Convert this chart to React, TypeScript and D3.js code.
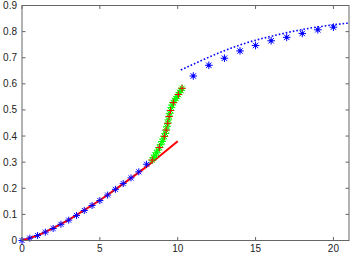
import React from 'react';
import * as d3 from 'd3';

// lower blue asterisks (x step 0.5)
const lowX = [0, 0.5, 1, 1.5, 2, 2.5, 3, 3.5, 4, 4.5, 5, 5.5, 6, 6.5, 7, 7.5, 8];
const lowY = [0, 0.009, 0.019, 0.032, 0.046, 0.062, 0.078, 0.096, 0.115, 0.134, 0.153, 0.174, 0.196, 0.218, 0.24, 0.263, 0.292];

// upper blue asterisks
const highX = [11, 12, 13, 14, 15, 16, 17, 18, 19, 20];
const highY = [0.63, 0.671, 0.698, 0.726, 0.747, 0.765, 0.778, 0.793, 0.807, 0.817];

// red fitted line
const fitX = [0, 1, 2, 3, 4, 5, 6, 7, 8, 9, 10];
const fitY = [0, 0.019, 0.047, 0.079, 0.116, 0.154, 0.196, 0.239, 0.283, 0.331, 0.38];

// blue dotted line
const dotX = [10.2, 11, 12, 13, 14, 15, 16, 17, 18, 19, 20, 21];
const dotY = [0.653, 0.675, 0.702, 0.727, 0.749, 0.767, 0.782, 0.796, 0.808, 0.818, 0.826, 0.833];

// green asterisks along the S curve
const greenX = [8.36, 8.45, 8.55, 8.64, 8.73, 8.82, 8.91, 9.0, 9.07, 9.14, 9.21, 9.26, 9.31, 9.36, 9.4, 9.45, 9.49, 9.54, 9.59, 9.64, 9.72, 9.8, 9.88, 9.96, 10.04, 10.12, 10.2, 10.28];
const greenY = [0.308, 0.318, 0.327, 0.336, 0.346, 0.356, 0.367, 0.379, 0.389, 0.399, 0.41, 0.423, 0.436, 0.449, 0.462, 0.475, 0.487, 0.498, 0.509, 0.519, 0.528, 0.537, 0.544, 0.551, 0.559, 0.567, 0.575, 0.583];

// red plus markers on the S curve
const plusX = [8.36, 8.82, 9.14, 9.26, 9.36, 9.45, 9.54, 9.72, 10.04, 10.28];
const plusY = [0.308, 0.356, 0.399, 0.423, 0.449, 0.475, 0.498, 0.528, 0.559, 0.583];

const xTicks = [0, 5, 10, 15, 20];
const yTicks = [0, 0.1, 0.2, 0.3, 0.4, 0.5, 0.6, 0.7, 0.8, 0.9];

const W = 354, H = 254;
const left = 22, right = 349, top = 5.5, bottom = 240.5;

const star = (r: number) => {
  const d = r * 0.72;
  return `M${-r},0H${r}M0,${-r}V${r}M${-d},${-d}L${d},${d}M${-d},${d}L${d},${-d}`;
};
const plus = (r: number) => `M${-r},0H${r}M0,${-r}V${r}`;

const App = () => {
  const x = d3.scaleLinear().domain([0, 21]).range([left, right]);
  const y = d3.scaleLinear().domain([0, 0.9]).range([bottom, top]);
  const line = d3.line<[number, number]>().x(d => x(d[0])).y(d => y(d[1]));
  const smooth = d3.line<[number, number]>().x(d => x(d[0])).y(d => y(d[1])).curve(d3.curveMonotoneX);

  const fit = fitX.map((v, i) => [v, fitY[i]] as [number, number]);
  const dots = dotX.map((v, i) => [v, dotY[i]] as [number, number]);
  const axis = '#666';
  const font = 'Liberation Sans, Arial, sans-serif';

  return (
    <svg width={W} height={H} style={{ position: 'absolute', left: 0, top: 0, background: '#fff' }}>
      <rect x={0} y={0} width={W} height={H} fill="#fff" />
      {/* data */}
      <path d={line(fit) || ''} fill="none" stroke="#ff0000" strokeWidth={2} />
      <path d={smooth(dots) || ''} fill="none" stroke="#0000ff" strokeWidth={1.6} strokeDasharray="1.6,2" />
      {lowX.map((v, i) => (
        <path key={'l' + i} transform={`translate(${x(v)},${y(lowY[i])})`} d={star(3.5)} stroke="#0000ff" strokeWidth={1} fill="none" />
      ))}
      {highX.map((v, i) => (
        <g key={'h' + i} transform={`translate(${x(v)},${y(highY[i])})`}>
          <path d={star(3.8)} stroke="#0000ff" strokeWidth={1} fill="none" />
          <rect x={-1.5} y={-1.5} width={3} height={3} fill="#0000ff" />
        </g>
      ))}
      {greenX.map((v, i) => (
        <path key={'g' + i} transform={`translate(${x(v)},${y(greenY[i])})`} d={star(3.8)} stroke="#00ff00" strokeWidth={1} fill="none" />
      ))}
      {plusX.map((v, i) => (
        <path key={'p' + i} transform={`translate(${x(v)},${y(plusY[i])})`} d={plus(3.5)} stroke="#ff0000" strokeWidth={1} fill="none" />
      ))}
      {/* box */}
      <rect x={left} y={top} width={right - left} height={bottom - top} fill="none" stroke={axis} strokeWidth={1} />
      {xTicks.map(t => (
        <g key={'xt' + t}>
          <line x1={x(t)} x2={x(t)} y1={bottom} y2={bottom - 3.5} stroke={axis} />
          <line x1={x(t)} x2={x(t)} y1={top} y2={top + 3.5} stroke={axis} />
          <text x={x(t)} y={252} textAnchor="middle" fontSize={10} fontFamily={font} fill="#222">{t}</text>
        </g>
      ))}
      {yTicks.map(t => (
        <g key={'yt' + t}>
          <line x1={left} x2={left + 3.5} y1={y(t)} y2={y(t)} stroke={axis} />
          <line x1={right} x2={right - 3.5} y1={y(t)} y2={y(t)} stroke={axis} />
          <text x={17} y={y(t) + 3.5} textAnchor="end" fontSize={10} fontFamily={font} fill="#222">{t}</text>
        </g>
      ))}
    </svg>
  );
};

export default App;
